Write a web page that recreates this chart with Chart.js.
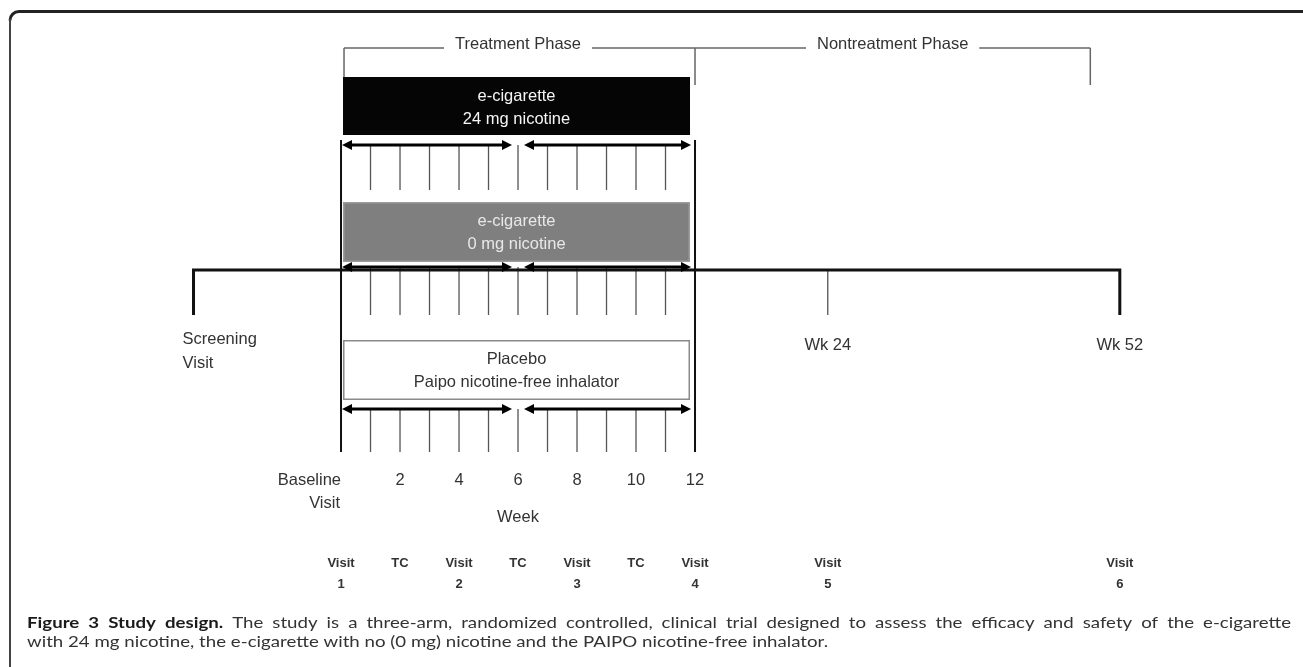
<!DOCTYPE html>
<html>
<head>
<meta charset="utf-8">
<script src="https://cdn.jsdelivr.net/npm/chart.js@4.4.1/dist/chart.umd.min.js"></script>
<style>
  html, body { margin: 0; padding: 0; background: #fff; }
  #wrap { width: 1303px; height: 667px; position: relative; }
</style>
</head>
<body>
<div id="wrap"><canvas id="studyChart"></canvas></div>
<script>
// --- data ---
const treatmentWeeks = [0, 1, 2, 3, 4, 5, 6, 7, 8, 9, 10, 11, 12];
const weekLabelWeeks = [2, 4, 6, 8, 10, 12];
const armNames = [
  ['e-cigarette', '24 mg nicotine'],
  ['e-cigarette', '0 mg nicotine'],
  ['Placebo', 'Paipo nicotine-free inhalator']
];
const phaseLabels = ['Treatment Phase', 'Nontreatment Phase'];
const followUpWeeks = [24, 52];
const followUpLabels = ['Wk 24', 'Wk 52'];
const visitWeeks = [0, 2, 4, 6, 8, 10, 12, 24, 52];
const visitLabels = [['Visit', '1'], ['TC'], ['Visit', '2'], ['TC'], ['Visit', '3'], ['TC'], ['Visit', '4'], ['Visit', '5'], ['Visit', '6']];
const captionBold = 'Figure 3 Study design.';
const captionLines = [
  'The study is a three-arm, randomized controlled, clinical trial designed to assess the efficacy and safety of the e-cigarette',
  'with 24 mg nicotine, the e-cigarette with no (0 mg) nicotine and the PAIPO nicotine-free inhalator.'
];

// axis is broken after week 12: where screening / wk 24 / wk 52 sit on it
const screeningPos = -5;
const followUpPos = [16.5, 26.4];
const nontreatEndPos = 25.4;

// vertical layout (rows, top to bottom)
const armTop = [77, 202, 340];
const armBottom = [135, 262, 400];
const arrowY = [145, 267, 409];
const tickBottom = [190, 315, 452];
const bracketY = 48, bracketDrop = 85;
const timelineY = 270, timelineDrop = 315;

function pos(week) {
  if (week <= 12) return week;
  return followUpPos[followUpWeeks.indexOf(week)];
}

// tick marks for every week inside the three arms
const tickData = [];
arrowY.forEach((y0, r) => {
  treatmentWeeks.slice(1, -1).forEach(w => {
    tickData.push({ x: w, y: y0 }, { x: w, y: tickBottom[r] }, { x: w, y: null });
  });
});

const lineDs = (data, color, width) => ({
  data, showLine: true, borderColor: color, borderWidth: width,
  pointRadius: 0, spanGaps: false, tension: 0, fill: false, borderCapStyle: 'butt'
});

const FONT = '"Liberation Sans", Arial, sans-serif';

function arrow(ctx, x1, x2, y) {
  const L = 10, H = 5;
  ctx.beginPath();
  ctx.moveTo(x1 + 4, y); ctx.lineTo(x2 - 4, y);
  ctx.stroke();
  ctx.beginPath();
  ctx.moveTo(x1, y); ctx.lineTo(x1 + L, y - H); ctx.lineTo(x1 + L, y + H); ctx.closePath();
  ctx.moveTo(x2, y); ctx.lineTo(x2 - L, y - H); ctx.lineTo(x2 - L, y + H); ctx.closePath();
  ctx.fill();
}

// caption: first line is justified to the frame width
function drawCaption(ctx) {
  const cf = '16px Lato, "Open Sans", sans-serif';
  ctx.save();
  ctx.textAlign = 'left';
  const words = captionBold.split(' ').map(w => ({ w, bold: true }))
    .concat(captionLines[0].split(' ').map(w => ({ w, bold: false })));
  let total = 0;
  words.forEach(o => {
    ctx.font = (o.bold ? 'bold ' : '') + cf;
    o.width = ctx.measureText(o.w).width;
    total += o.width;
  });
  const gaps = words.length - 1;
  const sx = (1264 - gaps * 9) / total;
  ctx.translate(27, 0);
  ctx.scale(sx, 1);
  const gap = (1264 / sx - total) / gaps;
  let x = 0;
  words.forEach(o => {
    ctx.font = (o.bold ? 'bold ' : '') + cf;
    ctx.fillStyle = o.bold ? '#1a1a1a' : '#333';
    ctx.fillText(o.w, x, 628);
    x += o.width + gap;
  });
  ctx.font = cf;
  ctx.fillStyle = '#333';
  ctx.fillText(captionLines[1], 0, 647);
  ctx.restore();
}

const diagramPlugin = {
  id: 'diagram',
  beforeDatasetsDraw(chart) {
    const ctx = chart.ctx;
    // figure frame
    ctx.save();
    ctx.strokeStyle = '#222';
    ctx.lineWidth = 3;
    ctx.beginPath();
    ctx.moveTo(1303, 11.5); ctx.lineTo(19, 11.5);
    ctx.arcTo(10, 11.5, 10, 20, 9);
    ctx.stroke();
    ctx.lineWidth = 2;
    ctx.strokeStyle = '#444';
    ctx.beginPath();
    ctx.moveTo(10, 19); ctx.lineTo(10, 667);
    ctx.stroke();
    ctx.restore();
  },
  afterDatasetsDraw(chart) {
    const ctx = chart.ctx;
    const xs = chart.scales.x, ys = chart.scales.y;
    const X = v => xs.getPixelForValue(v), Y = v => ys.getPixelForValue(v);
    ctx.save();

    // phase brackets
    ctx.font = '16.5px ' + FONT;
    ctx.textAlign = 'center';
    ctx.textBaseline = 'alphabetic';
    ctx.strokeStyle = '#666';
    ctx.fillStyle = '#333';
    ctx.lineWidth = 1.5;
    const phaseSpans = [[0, 12], [12, nontreatEndPos]];
    const left = X(0) + 3, right = X(nontreatEndPos);
    let cursor = left;
    ctx.beginPath();
    phaseSpans.forEach((s, i) => {
      const cx = (X(s[0]) + X(s[1])) / 2;
      const w = ctx.measureText(phaseLabels[i]).width / 2 + 11;
      ctx.moveTo(cursor, Y(bracketY)); ctx.lineTo(cx - w, Y(bracketY));
      cursor = cx + w;
      ctx.fillText(phaseLabels[i], cx, Y(bracketY) + 1);
    });
    ctx.moveTo(cursor, Y(bracketY)); ctx.lineTo(right, Y(bracketY));
    ctx.moveTo(left, Y(bracketY)); ctx.lineTo(left, Y(armTop[0]));
    ctx.moveTo(X(12), Y(bracketY)); ctx.lineTo(X(12), Y(bracketDrop));
    ctx.moveTo(right, Y(bracketY)); ctx.lineTo(right, Y(bracketDrop));
    ctx.stroke();

    // arm boxes
    const fills = ['#050505', '#7f7f7f', '#ffffff'];
    const strokes = [null, '#9c9c9c', '#8a8a8a'];
    const txt = ['#f5f5f5', '#e8e8e8', '#333'];
    armNames.forEach((names, r) => {
      const bx = X(0) + 2, bw = X(12) - 5 - bx;
      const by = Y(armTop[r]), bh = Y(armBottom[r]) - by;
      ctx.fillStyle = fills[r];
      ctx.fillRect(bx, by, bw, bh);
      if (strokes[r]) {
        ctx.strokeStyle = strokes[r];
        ctx.lineWidth = 1.5;
        ctx.strokeRect(bx + 0.75, by + 0.75, bw - 1.5, bh - 1.5);
      }
      ctx.fillStyle = txt[r];
      ctx.font = '16.5px ' + FONT;
      ctx.textAlign = 'center';
      ctx.fillText(names[0], bx + bw / 2, by + 24);
      ctx.fillText(names[1], bx + bw / 2, by + 47);
    });

    // double-headed arrows, 0-6 and 6-12 weeks
    ctx.strokeStyle = '#000';
    ctx.fillStyle = '#000';
    ctx.lineWidth = 3;
    arrowY.forEach(y => {
      arrow(ctx, X(0) + 1, X(6) - 6, Y(y));
      arrow(ctx, X(6) + 6, X(12) - 4, Y(y));
    });

    // texts
    ctx.fillStyle = '#333';
    ctx.font = '16.5px ' + FONT;
    ctx.textAlign = 'left';
    ctx.fillText('Screening', X(screeningPos) - 11, Y(344));
    ctx.fillText('Visit', X(screeningPos) - 11, Y(368));
    ctx.textAlign = 'center';
    followUpLabels.forEach((l, i) => ctx.fillText(l, X(followUpPos[i]), Y(350)));
    weekLabelWeeks.forEach(w => ctx.fillText(String(w), X(w), Y(485)));
    ctx.fillText('Week', X(6), Y(522));
    ctx.textAlign = 'right';
    ctx.fillText('Baseline', X(0), Y(485));
    ctx.fillText('Visit', X(0) - 1, Y(508));

    ctx.textAlign = 'center';
    ctx.font = 'bold 13px ' + FONT;
    ctx.fillStyle = '#333';
    visitLabels.forEach((l, i) => {
      const x = X(pos(visitWeeks[i]));
      ctx.fillText(l[0], x, Y(567));
      if (l[1]) ctx.fillText(l[1], x, Y(588));
    });

    drawCaption(ctx);
    ctx.restore();
  }
};

new Chart(document.getElementById('studyChart'), {
  type: 'scatter',
  data: {
    datasets: [
      lineDs([{ x: screeningPos, y: timelineDrop }, { x: screeningPos, y: timelineY },
              { x: pos(52), y: timelineY }, { x: pos(52), y: timelineDrop }], '#111', 3),
      lineDs([{ x: pos(24), y: timelineY }, { x: pos(24), y: timelineDrop }], '#555', 1.3),
      lineDs(tickData, '#555', 1.3),
      lineDs([{ x: 0, y: 140 }, { x: 0, y: tickBottom[2] }, { x: 0, y: null },
              { x: 12, y: 140 }, { x: 12, y: tickBottom[2] }], '#111', 2)
    ]
  },
  options: {
    responsive: true,
    maintainAspectRatio: false,
    animation: false,
    layout: { padding: 0 },
    plugins: { legend: { display: false }, tooltip: { enabled: false } },
    scales: {
      x: { type: 'linear', min: -11.56, max: 32.61, display: false },
      y: { type: 'linear', min: 0, max: 667, reverse: true, display: false }
    }
  },
  plugins: [diagramPlugin]
});
</script>
</body>
</html>
